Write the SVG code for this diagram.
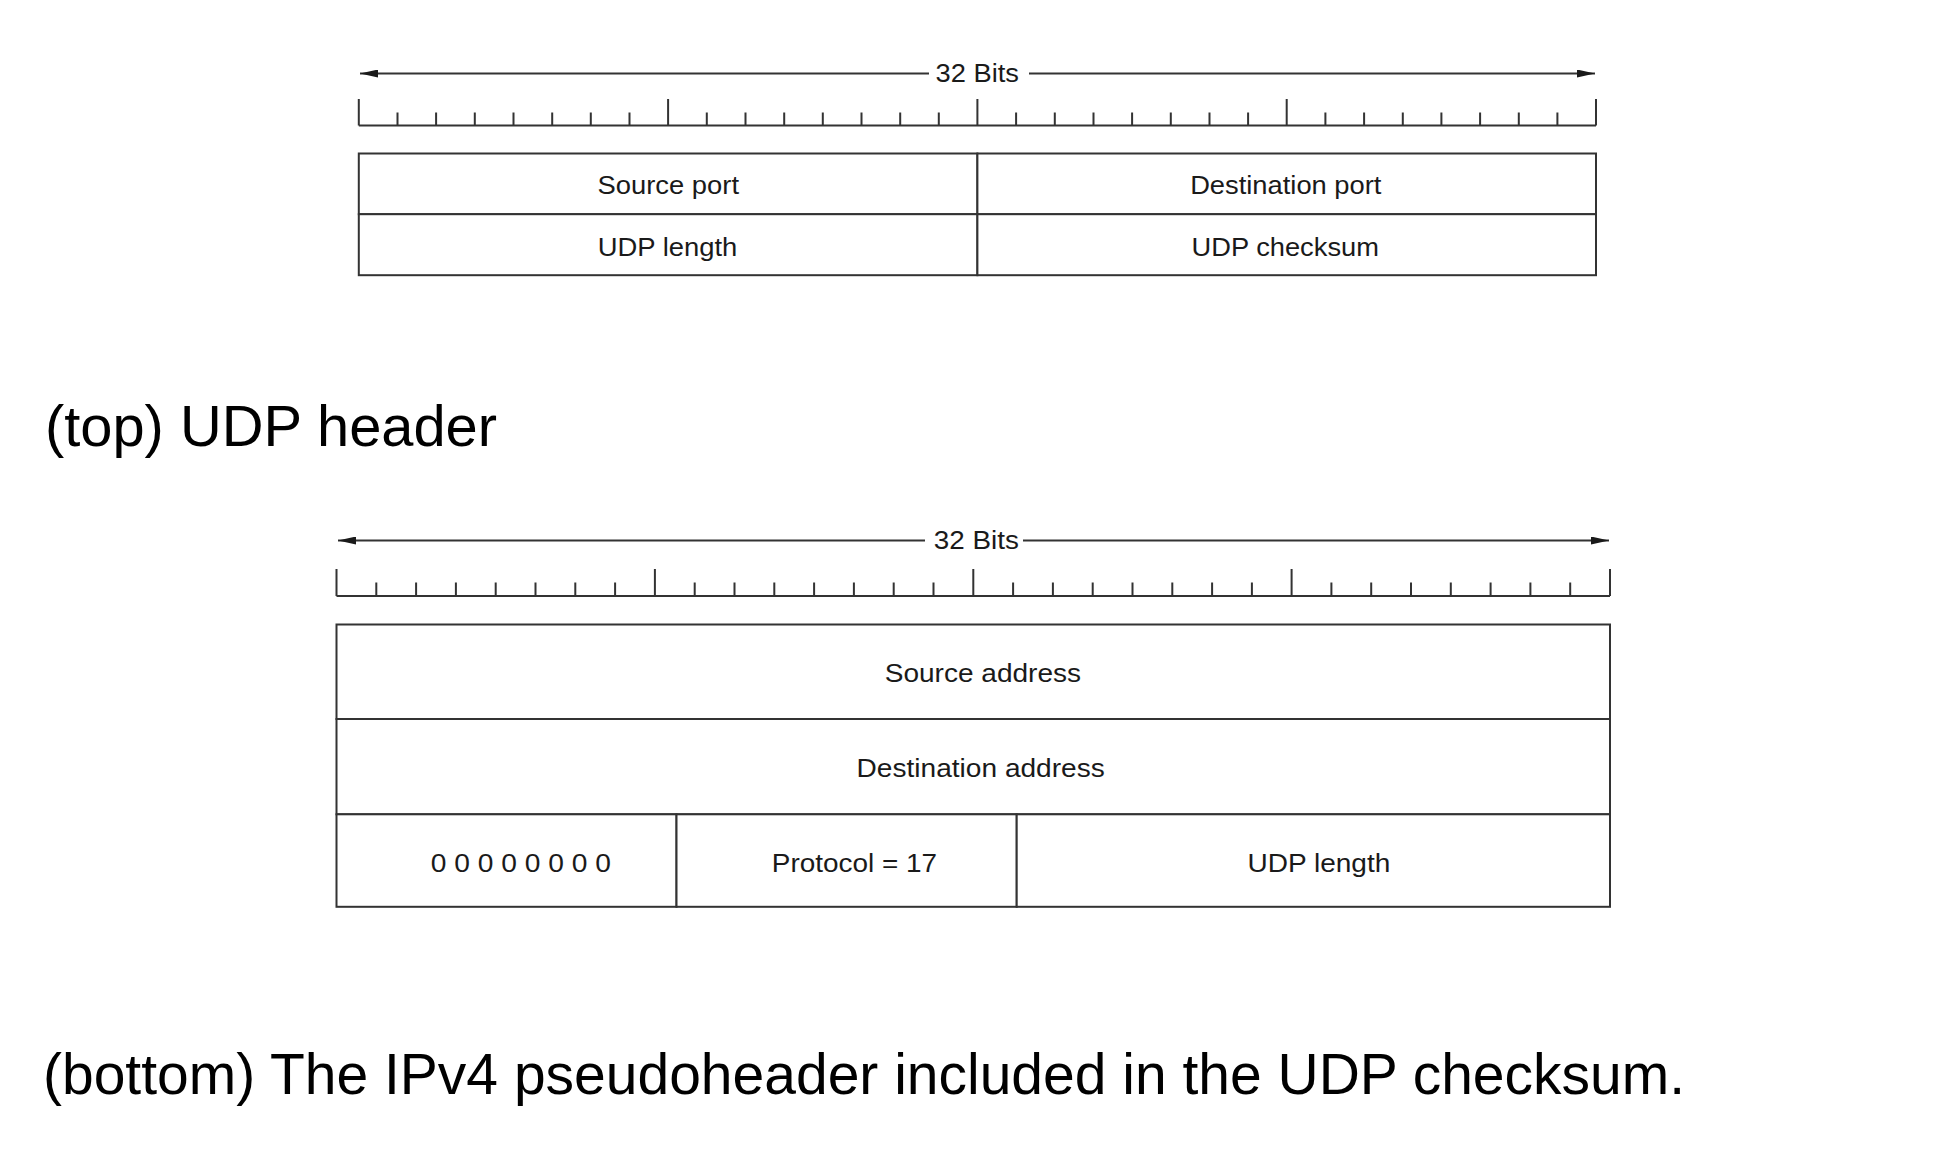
<svg xmlns="http://www.w3.org/2000/svg" width="1940" height="1156" viewBox="0 0 1940 1156">
<style>
.bg{fill:#ffffff}
.box{fill:#ffffff;stroke:#333333;stroke-width:2}
.ln{fill:none;stroke:#333333;stroke-width:2}
.tk{fill:none;stroke:#333333;stroke-width:2}
.lbl{font-family:"Liberation Sans",Arial,Helvetica,sans-serif;font-size:25px;fill:#1a1a1a;text-anchor:middle}
.cap{font-family:"Liberation Sans",Arial,Helvetica,sans-serif;font-size:58px;fill:#000000}
</style>
<defs>
<marker id="ah" viewBox="0 0 18 8" refX="18" refY="4" markerWidth="18" markerHeight="8" markerUnits="userSpaceOnUse" orient="auto">
<path d="M0,0 L18,4 L0,8 Z" fill="#1a1a1a"/>
</marker>
</defs>
<rect class="bg" x="0" y="0" width="1940" height="1156"/>

<!-- TOP: UDP header -->
<g id="top-width">
<g id="connectors-top">
<line class="ln" x1="929" y1="73.5" x2="360" y2="73.5" marker-end="url(#ah)"/>
<line class="ln" x1="1029" y1="73.5" x2="1595" y2="73.5" marker-end="url(#ah)"/>
</g>
<text class="lbl" x="977.3" y="82" textLength="83.4" lengthAdjust="spacingAndGlyphs">32 Bits</text>
</g>
<g id="top-ruler">
<path class="tk" d="M358.8,125.5 H1596
M358.8,125.5 V99 M397.5,125.5 V112.5 M436.1,125.5 V112.5 M474.8,125.5 V112.5 M513.5,125.5 V112.5 M552.2,125.5 V112.5 M590.8,125.5 V112.5 M629.5,125.5 V112.5
M668.1,125.5 V99 M706.8,125.5 V112.5 M745.5,125.5 V112.5 M784.2,125.5 V112.5 M822.8,125.5 V112.5 M861.5,125.5 V112.5 M900.2,125.5 V112.5 M938.8,125.5 V112.5
M977.4,125.5 V99 M1016.1,125.5 V112.5 M1054.8,125.5 V112.5 M1093.5,125.5 V112.5 M1132.1,125.5 V112.5 M1170.8,125.5 V112.5 M1209.5,125.5 V112.5 M1248.1,125.5 V112.5
M1286.7,125.5 V99 M1325.4,125.5 V112.5 M1364.1,125.5 V112.5 M1402.8,125.5 V112.5 M1441.4,125.5 V112.5 M1480.1,125.5 V112.5 M1518.8,125.5 V112.5 M1557.4,125.5 V112.5
M1596,125.5 V99"/>
</g>
<g id="source-port">
<rect class="box" x="358.8" y="153.5" width="618.6" height="60.7"/>
<text class="lbl" x="668.3" y="194" textLength="141.4" lengthAdjust="spacingAndGlyphs">Source port</text>
</g>
<g id="destination-port">
<rect class="box" x="977.4" y="153.5" width="618.6" height="60.7"/>
<text class="lbl" x="1285.8" y="194" textLength="191.3" lengthAdjust="spacingAndGlyphs">Destination port</text>
</g>
<g id="udp-length-top">
<rect class="box" x="358.8" y="214.2" width="618.6" height="61"/>
<text class="lbl" x="667.5" y="256" textLength="139.7" lengthAdjust="spacingAndGlyphs">UDP length</text>
</g>
<g id="udp-checksum">
<rect class="box" x="977.4" y="214.2" width="618.6" height="61"/>
<text class="lbl" x="1285.2" y="256" textLength="187.4" lengthAdjust="spacingAndGlyphs">UDP checksum</text>
</g>

<text class="cap" x="45" y="446" textLength="452" lengthAdjust="spacingAndGlyphs">(top) UDP header</text>

<!-- BOTTOM: IPv4 pseudoheader -->
<g id="bottom-width">
<g id="connectors-bottom">
<line class="ln" x1="925" y1="540.5" x2="338" y2="540.5" marker-end="url(#ah)"/>
<line class="ln" x1="1023" y1="540.5" x2="1609" y2="540.5" marker-end="url(#ah)"/>
</g>
<text class="lbl" x="976.3" y="548.5" textLength="85" lengthAdjust="spacingAndGlyphs">32 Bits</text>
</g>
<g id="bottom-ruler">
<path class="tk" d="M336.5,596 H1610
M336.5,596 V569 M376.3,596 V582.5 M416.1,596 V582.5 M455.9,596 V582.5 M495.7,596 V582.5 M535.5,596 V582.5 M575.3,596 V582.5 M615.1,596 V582.5
M654.9,596 V569 M694.7,596 V582.5 M734.5,596 V582.5 M774.3,596 V582.5 M814.1,596 V582.5 M853.9,596 V582.5 M893.7,596 V582.5 M933.5,596 V582.5
M973.3,596 V569 M1013.1,596 V582.5 M1052.9,596 V582.5 M1092.7,596 V582.5 M1132.5,596 V582.5 M1172.3,596 V582.5 M1212.1,596 V582.5 M1251.9,596 V582.5
M1291.6,596 V569 M1331.4,596 V582.5 M1371.2,596 V582.5 M1411.0,596 V582.5 M1450.8,596 V582.5 M1490.6,596 V582.5 M1530.4,596 V582.5 M1570.2,596 V582.5
M1610,596 V569"/>
</g>
<g id="source-address">
<rect class="box" x="336.5" y="624.5" width="1273.5" height="94.5"/>
<text class="lbl" x="982.9" y="681.5" textLength="196.3" lengthAdjust="spacingAndGlyphs">Source address</text>
</g>
<g id="destination-address">
<rect class="box" x="336.5" y="719" width="1273.5" height="95.3"/>
<text class="lbl" x="980.7" y="776.5" textLength="248.2" lengthAdjust="spacingAndGlyphs">Destination address</text>
</g>
<g id="zeros">
<rect class="box" x="336.5" y="814.3" width="340" height="92.5"/>
<text class="lbl" x="520.9" y="872" textLength="180.3" lengthAdjust="spacingAndGlyphs">0 0 0 0 0 0 0 0</text>
</g>
<g id="protocol">
<rect class="box" x="676.5" y="814.3" width="340.2" height="92.5"/>
<text class="lbl" x="854.4" y="872" textLength="165.2" lengthAdjust="spacingAndGlyphs">Protocol = 17</text>
</g>
<g id="udp-length-bottom">
<rect class="box" x="1016.7" y="814.3" width="593.3" height="92.5"/>
<text class="lbl" x="1318.9" y="872" textLength="142.8" lengthAdjust="spacingAndGlyphs">UDP length</text>
</g>

<text class="cap" x="43" y="1094" textLength="1642" lengthAdjust="spacingAndGlyphs">(bottom) The IPv4 pseudoheader included in the UDP checksum.</text>
</svg>
